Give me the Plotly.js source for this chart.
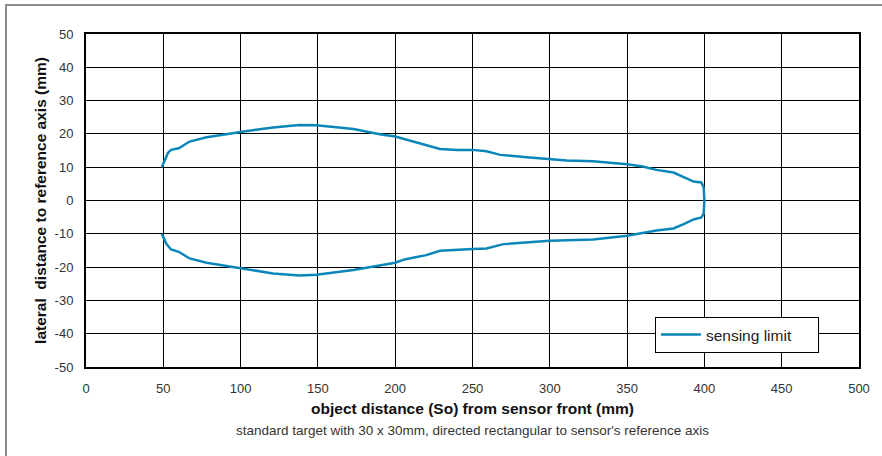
<!DOCTYPE html>
<html>
<head>
<meta charset="utf-8">
<script src="https://cdn.plot.ly/plotly-3.0.1.min.js"></script>
<style>
  html, body { margin: 0; padding: 0; background: #fff; }
  #wrap { position: relative; width: 882px; height: 456px; overflow: hidden; }
  #chart { position: absolute; left: 0; top: 0; width: 882px; height: 456px; }
  #frame { position: absolute; left: 5px; top: 4px; width: 900px; height: 500px;
           border-top: 2px solid #8c8c8c; border-left: 2px solid #8c8c8c; pointer-events: none; }
</style>
</head>
<body>
<div id="wrap">
  <div id="chart"></div>
  <div id="frame"></div>
</div>
<script>
// object distance (mm) along the sensing limit contour
const distanceMm = [
  49, 51, 53, 55, 60, 67, 78, 100, 121, 138, 149, 173, 190, 200, 215, 229, 240, 250, 259, 268,
  285, 300, 311, 328, 350, 360, 369, 380, 387, 393, 398, 399.5, 400,
  399.5, 398, 393, 387, 380, 369, 350, 328, 309, 300, 270, 259, 250, 240, 229, 220, 206, 200,
  173, 149, 138, 121, 100, 78, 67, 60, 55, 52, 49
];
// lateral distance to reference axis (mm)
const lateralMm = [
  10, 12, 14.3, 15.2, 15.7, 17.7, 19.0, 20.6, 21.9, 22.7, 22.6, 21.5, 19.9, 19.2, 17.3, 15.5, 15.2, 15.2, 14.8, 13.7,
  13.0, 12.4, 12.0, 11.8, 10.9, 10.2, 9.2, 8.4, 7.0, 5.7, 5.4, 4.0, 0,
  -4.0, -5.1, -5.7, -7.0, -8.4, -9.0, -10.6, -11.7, -11.9, -12.1, -13.1, -14.4, -14.6, -14.9, -15.1, -16.4, -17.7, -18.7,
  -20.9, -22.3, -22.5, -21.9, -20.4, -18.7, -17.4, -15.4, -14.7, -13.0, -10
];
const seriesName = 'sensing limit';
const xTicks = [0, 50, 100, 150, 200, 250, 300, 350, 400, 450, 500];
const yTicks = [-50, -40, -30, -20, -10, 0, 10, 20, 30, 40, 50];
const xTitle = 'object distance (So) from sensor front (mm)';
const yTitle = 'lateral\u00a0 distance to reference axis (mm)';
const subTitle = "standard target with 30 x 30mm, directed rectangular to sensor's reference axis";

const trace = {
  x: distanceMm,
  y: lateralMm,
  type: 'scatter',
  mode: 'lines',
  name: seriesName + '\u00a0\u00a0\u00a0\u00a0\u00a0',
  line: { color: '#0a87b8', width: 2.5 },
  showlegend: true
};

const font = 'Liberation Sans, Arial, Helvetica, sans-serif';

const layout = {
  width: 882,
  height: 456,
  margin: { l: 86, r: 23, t: 34, b: 89, pad: 0 },
  paper_bgcolor: '#ffffff',
  plot_bgcolor: '#ffffff',
  font: { family: font, size: 13, color: '#333' },
  showlegend: true,
  legend: {
    x: 0.736, y: 0.15, xanchor: 'left', yanchor: 'top',
    bgcolor: '#ffffff', bordercolor: '#000', borderwidth: 1,
    font: { family: font, size: 15.5, color: '#222' },
    itemwidth: 40
  },
  xaxis: {
    range: [0, 500],
    tickvals: xTicks,
    ticktext: xTicks.map(String),
    showgrid: true, gridcolor: '#000', gridwidth: 1,
    zeroline: false,
    showline: true, linecolor: '#000', linewidth: 2, mirror: true,
    ticks: '', ticklabelstandoff: 8,
    tickfont: { family: font, size: 13, color: '#333' },
    title: { text: xTitle, font: { family: font, size: 15.5, color: '#111', weight: 'bold' }, standoff: 9 },
    fixedrange: true
  },
  yaxis: {
    range: [-50, 50],
    tickvals: yTicks,
    ticktext: yTicks.map(String),
    showgrid: true, gridcolor: '#000', gridwidth: 1,
    zeroline: false,
    showline: true, linecolor: '#000', linewidth: 2, mirror: true,
    ticks: '', ticklabelstandoff: 8,
    tickfont: { family: font, size: 13, color: '#333' },
    title: { text: yTitle, font: { family: font, size: 15.5, color: '#111', weight: 'bold' }, standoff: 4 },
    fixedrange: true
  },
  annotations: [{
    text: subTitle,
    xref: 'paper', yref: 'paper',
    x: 0.5, y: -0.19, xanchor: 'center', yanchor: 'middle',
    showarrow: false,
    font: { family: font, size: 13.5, color: '#333' }
  }]
};

Plotly.newPlot('chart', [trace], layout, { displayModeBar: false, staticPlot: true });
</script>
</body>
</html>
